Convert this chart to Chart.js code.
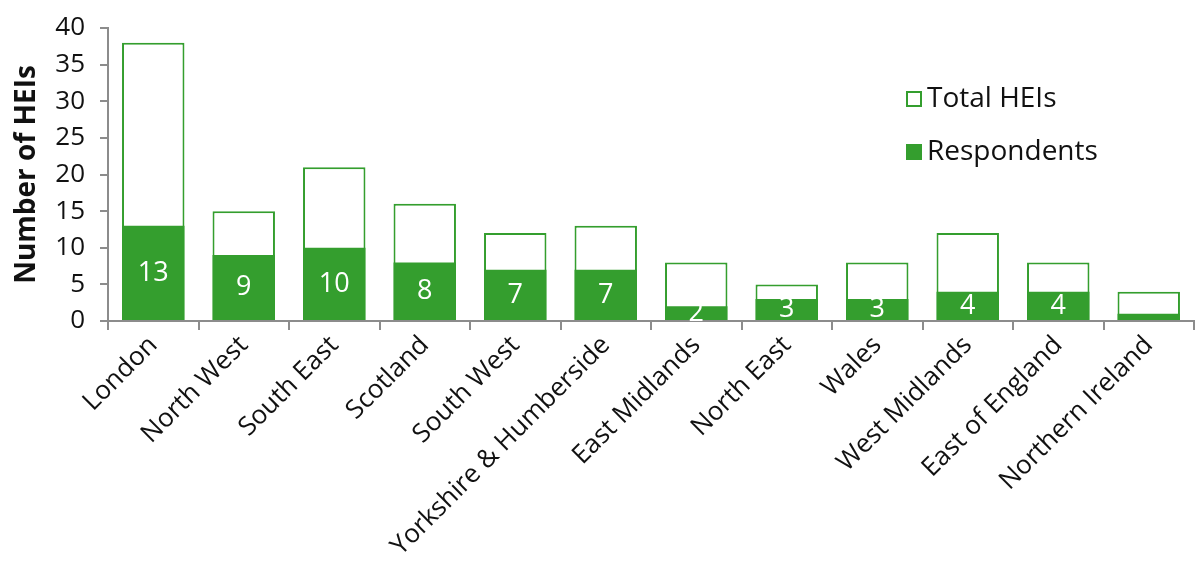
<!DOCTYPE html>
<html>
<head>
<meta charset="utf-8">
<title>HEIs by region</title>
<script src="https://cdn.jsdelivr.net/npm/chart.js@4/dist/chart.umd.min.js"></script>
<style>
  html, body { margin: 0; padding: 0; background: #fff; }
  #wrap { width: 1200px; height: 576px; position: relative; }
</style>
</head>
<body>
<div id="wrap"><canvas id="heiChart"></canvas></div>
<script>
// regions and counts
const regions = ['London', 'North West', 'South East', 'Scotland', 'South West',
  'Yorkshire & Humberside', 'East Midlands', 'North East', 'Wales',
  'West Midlands', 'East of England', 'Northern Ireland'];
const totalHEIs = [38, 15, 21, 16, 12, 13, 8, 5, 8, 12, 8, 4];
const respondents = [13, 9, 10, 8, 7, 7, 2, 3, 3, 4, 4, 1];
const yTicks = [0, 5, 10, 15, 20, 25, 30, 35, 40];

const GREEN = '#349e2e';
const AXIS = '#8c8c8c';
const FONT = "'Open Sans', 'Noto Sans', sans-serif";

// white count inside each respondents bar
const barLabels = {
  id: 'barLabels',
  afterDatasetsDraw(chart) {
    const ctx = chart.ctx;
    const meta = chart.getDatasetMeta(1);
    ctx.save();
    ctx.fillStyle = '#fff';
    ctx.font = '27px ' + FONT;
    ctx.textAlign = 'center';
    ctx.textBaseline = 'middle';
    meta.data.forEach((bar, i) => {
      const v = respondents[i];
      if (v < 2) return;
      const yMid = (bar.y + bar.base) / 2;
      ctx.fillText(String(v), bar.x, yMid);
    });
    ctx.restore();
  }
};

// legend in the upper right
const sideLegend = {
  id: 'sideLegend',
  afterDraw(chart) {
    const ctx = chart.ctx;
    const items = [
      { text: 'Total HEIs', fill: '#fff', y: 99 },
      { text: 'Respondents', fill: GREEN, y: 152 }
    ];
    ctx.save();
    ctx.font = '28px ' + FONT;
    ctx.textBaseline = 'middle';
    items.forEach(it => {
      ctx.fillStyle = it.fill;
      ctx.fillRect(907, it.y - 7, 14, 14);
      ctx.strokeStyle = GREEN;
      ctx.lineWidth = 2;
      ctx.strokeRect(907, it.y - 7, 14, 14);
      ctx.fillStyle = '#111';
      ctx.fillText(it.text, 927, it.y);
    });
    ctx.restore();
  }
};

new Chart(document.getElementById('heiChart'), {
  type: 'bar',
  data: {
    labels: regions,
    datasets: [
      {
        label: 'Total HEIs',
        data: totalHEIs,
        backgroundColor: '#fff',
        borderColor: GREEN,
        borderWidth: 2,
        order: 2,
        barPercentage: 0.69,
        categoryPercentage: 1
      },
      {
        label: 'Respondents',
        data: respondents,
        backgroundColor: GREEN,
        borderWidth: 0,
        order: 1,
        barPercentage: 0.69,
        categoryPercentage: 1
      }
    ]
  },
  options: {
    responsive: true,
    maintainAspectRatio: false,
    animation: false,
    layout: { padding: { top: 27, right: 6, left: 10, bottom: 0 } },
    plugins: {
      legend: { display: false },
      tooltip: { enabled: false }
    },
    scales: {
      x: {
        stacked: true,
        grid: { display: true, drawOnChartArea: false, color: AXIS, tickLength: 9, lineWidth: 2 },
        border: { color: AXIS, width: 2 },
        ticks: {
          color: '#111',
          font: { family: FONT, size: 26 },
          maxRotation: 45,
          minRotation: 45,
          autoSkip: false,
          padding: 0
        },
        afterFit(scale) { scale.height = 255; }
      },
      y: {
        min: 0,
        max: 40,
        afterBuildTicks(scale) { scale.ticks = yTicks.map(v => ({ value: v })); },
        grid: { display: true, drawOnChartArea: false, color: AXIS, tickLength: 8, lineWidth: 2 },
        border: { color: AXIS, width: 2 },
        ticks: {
          color: '#111',
          font: { family: FONT, size: 26, lineHeight: 1 },
          padding: 15
        },
        title: {
          display: true,
          text: 'Number of HEIs',
          color: '#111',
          font: { family: FONT, size: 28, weight: 'bold' },
          padding: 0
        },
        afterFit(scale) { scale.width = 98; }
      }
    }
  },
  plugins: [barLabels, sideLegend]
});
</script>
</body>
</html>
